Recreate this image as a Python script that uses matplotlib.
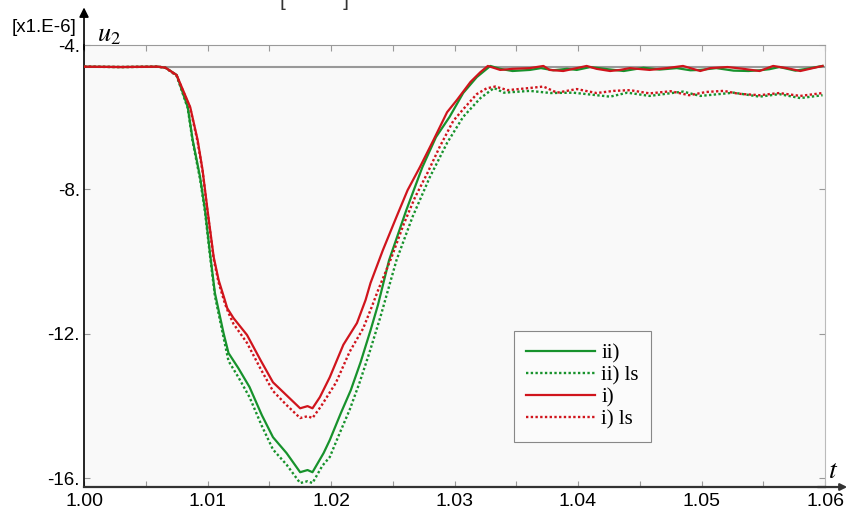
import numpy as np
import matplotlib
matplotlib.use("Agg")
import matplotlib.pyplot as plt

# u2 response, values in units of 1e-6
t_i = [1.0000, 1.0030, 1.0060, 1.0066, 1.0075, 1.0086, 1.0092, 1.0096, 1.0100, 1.0105,
       1.0109, 1.0114, 1.0116, 1.0121, 1.0132, 1.0143, 1.0153, 1.0164, 1.0175, 1.0181,
       1.0185, 1.0191, 1.0199, 1.0210, 1.0221, 1.0228, 1.0232, 1.0242, 1.0253, 1.0262,
       1.0272, 1.0283, 1.0294, 1.0302, 1.0313, 1.0321, 1.0327, 1.0337, 1.0347, 1.0361,
       1.0372, 1.0377, 1.0388, 1.0399, 1.0407, 1.0415, 1.0426, 1.0434, 1.0442, 1.0458,
       1.0472, 1.0485, 1.0499, 1.0507, 1.0521, 1.0534, 1.0547, 1.0558, 1.0569, 1.0580,
       1.0594, 1.0598]
u_i = [-4.60, -4.61, -4.60, -4.63, -4.83, -5.72, -6.63, -7.46, -8.57, -9.87,
       -10.51, -11.06, -11.29, -11.56, -12.03, -12.73, -13.34, -13.70, -14.06, -14.00,
       -14.06, -13.75, -13.20, -12.30, -11.70, -11.06, -10.59, -9.68, -8.76, -8.02,
       -7.38, -6.63, -5.86, -5.52, -5.02, -4.75, -4.58, -4.69, -4.66, -4.64,
       -4.58, -4.69, -4.72, -4.64, -4.58, -4.66, -4.72, -4.69, -4.64, -4.69,
       -4.64, -4.58, -4.72, -4.64, -4.61, -4.66, -4.72, -4.58, -4.64, -4.72,
       -4.61, -4.58]

t_i_ls = [1.0000, 1.0030, 1.0060, 1.0066, 1.0075, 1.0086, 1.0092, 1.0096, 1.0100, 1.0105,
          1.0109, 1.0114, 1.0117, 1.0121, 1.0132, 1.0143, 1.0153, 1.0164, 1.0175, 1.0181,
          1.0185, 1.0192, 1.0204, 1.0215, 1.0226, 1.0233, 1.0238, 1.0249, 1.0259, 1.0268,
          1.0278, 1.0288, 1.0299, 1.0307, 1.0318, 1.0326, 1.0333, 1.0343, 1.0361, 1.0372,
          1.0383, 1.0399, 1.0415, 1.0429, 1.0442, 1.0458, 1.0475, 1.0490, 1.0504, 1.0518,
          1.0530, 1.0547, 1.0563, 1.0580, 1.0598]
u_i_ls = [-4.60, -4.61, -4.60, -4.63, -4.85, -5.75, -6.68, -7.50, -8.62, -9.93,
          -10.58, -11.15, -11.42, -11.72, -12.25, -12.97, -13.58, -13.97, -14.33, -14.28,
          -14.33, -14.00, -13.35, -12.50, -11.85, -11.25, -10.80, -9.88, -8.95, -8.22,
          -7.55, -6.82, -6.10, -5.78, -5.36, -5.20, -5.15, -5.25, -5.19, -5.15,
          -5.32, -5.22, -5.33, -5.27, -5.25, -5.34, -5.28, -5.39, -5.30, -5.27,
          -5.35, -5.39, -5.33, -5.41, -5.33]

t_ii = [1.0000, 1.0030, 1.0060, 1.0066, 1.0075, 1.0084, 1.0088, 1.0094, 1.0098, 1.0102,
        1.0106, 1.0113, 1.0117, 1.0125, 1.0134, 1.0144, 1.0153, 1.0164, 1.0175, 1.0181,
        1.0185, 1.0194, 1.0199, 1.0208, 1.0216, 1.0224, 1.0232, 1.0238, 1.0247, 1.0261,
        1.0274, 1.0285, 1.0296, 1.0307, 1.0318, 1.0329, 1.0337, 1.0347, 1.0361, 1.0370,
        1.0380, 1.0391, 1.0399, 1.0410, 1.0424, 1.0437, 1.0453, 1.0466, 1.0480, 1.0491,
        1.0499, 1.0512, 1.0526, 1.0538, 1.0547, 1.0555, 1.0563, 1.0576, 1.0585, 1.0598]
u_ii = [-4.60, -4.61, -4.60, -4.63, -4.83, -5.72, -6.63, -7.66, -8.57, -9.76,
        -10.87, -11.98, -12.53, -12.95, -13.47, -14.25, -14.86, -15.30, -15.83, -15.77,
        -15.83, -15.30, -14.94, -14.19, -13.56, -12.78, -11.90, -11.20, -9.96, -8.57,
        -7.38, -6.55, -5.99, -5.33, -4.89, -4.58, -4.66, -4.72, -4.69, -4.64,
        -4.70, -4.66, -4.69, -4.61, -4.67, -4.72, -4.63, -4.68, -4.64, -4.70,
        -4.69, -4.64, -4.71, -4.72, -4.70, -4.67, -4.61, -4.71, -4.66, -4.58]

t_ii_ls = [1.0000, 1.0030, 1.0060, 1.0066, 1.0075, 1.0084, 1.0088, 1.0094, 1.0098, 1.0102,
           1.0106, 1.0113, 1.0117, 1.0125, 1.0134, 1.0144, 1.0153, 1.0164, 1.0175, 1.0181,
           1.0185, 1.0193, 1.0199, 1.0207, 1.0215, 1.0223, 1.0231, 1.0240, 1.0253, 1.0266,
           1.0280, 1.0294, 1.0307, 1.0321, 1.0332, 1.0340, 1.0361, 1.0378, 1.0396, 1.0426,
           1.0440, 1.0458, 1.0485, 1.0499, 1.0526, 1.0547, 1.0563, 1.0580, 1.0598]
u_ii_ls = [-4.60, -4.61, -4.60, -4.63, -4.85, -5.75, -6.68, -7.72, -8.63, -9.83,
           -10.95, -12.10, -12.75, -13.20, -13.75, -14.55, -15.20, -15.62, -16.13, -16.08,
           -16.13, -15.65, -15.41, -14.75, -14.11, -13.36, -12.53, -11.53, -9.96, -8.76,
           -7.66, -6.71, -5.99, -5.47, -5.19, -5.32, -5.27, -5.33, -5.32, -5.43,
           -5.32, -5.41, -5.29, -5.41, -5.32, -5.43, -5.36, -5.47, -5.39]

u_ref = -4.6
y_ticks = [-4, -8, -12, -16]
x_ticks = [1.00, 1.01, 1.02, 1.03, 1.04, 1.05, 1.06]

GREEN = "#17922c"
RED = "#d0141c"


def style_axes(ax):
    ax.set_facecolor("#f9f9f9")
    ax.set_xlim(1.0, 1.06)
    ax.set_ylim(-16.24, -4.0)

    ax.spines["left"].set_color("black")
    ax.spines["left"].set_linewidth(1.2)
    ax.spines["bottom"].set_color("#333333")
    ax.spines["bottom"].set_linewidth(1.6)
    ax.spines["top"].set_color("#9a9a9a")
    ax.spines["right"].set_color("#bbbbbb")

    ax.set_xticks(x_ticks)
    ax.set_xticklabels([f"{v:.2f}" for v in x_ticks])
    ax.set_xticks(np.arange(1.005, 1.06, 0.01), minor=True)
    ax.set_yticks(y_ticks)
    ax.set_yticklabels([f"{v}." for v in y_ticks])

    ax.tick_params(axis="both", which="both", direction="in", color="#999999",
                   labelsize=14, top=True, right=True, length=4, width=0.8)
    ax.tick_params(axis="x", pad=4)
    ax.tick_params(axis="y", pad=3, labelsize=13.5)
    for lab in ax.get_xticklabels() + ax.get_yticklabels():
        lab.set_fontfamily("Liberation Sans")

    # axis arrows
    ax.annotate("", xy=(0, 1.085), xytext=(0, 0.99), xycoords="axes fraction",
                arrowprops=dict(arrowstyle="-|>", color="black", lw=1.2,
                                mutation_scale=14, shrinkA=0, shrinkB=0))
    ax.annotate("", xy=(1.03, 0), xytext=(0.99, 0), xycoords="axes fraction",
                arrowprops=dict(arrowstyle="-|>", color="#333333", lw=1.6,
                                mutation_scale=10, shrinkA=0, shrinkB=0))


def main():
    fig = plt.figure(figsize=(8.46, 5.08), dpi=100)
    ax = fig.add_axes([0.0993, 0.0413, 0.8759, 0.8701])
    style_axes(ax)

    ax.axhline(u_ref, color="#999999", lw=1.5, zorder=1)

    dot = (0, (1.0, 1.0))
    ax.plot(t_ii, u_ii, color=GREEN, lw=1.6, label="ii)", zorder=3)
    ax.plot(t_ii_ls, u_ii_ls, color=GREEN, lw=1.7, ls=dot, label="ii) ls", zorder=3)
    ax.plot(t_i, u_i, color=RED, lw=1.6, label="i)", zorder=4)
    ax.plot(t_i_ls, u_i_ls, color=RED, lw=1.7, ls=dot, label="i) ls", zorder=4)

    leg = ax.legend(loc="upper left", bbox_to_anchor=(0.58, 0.353), frameon=True,
                    fancybox=False, edgecolor="#888888", facecolor="#fbfbfb",
                    framealpha=1.0, handlelength=3.3, handletextpad=0.3,
                    labelspacing=0.12, borderpad=0.6, borderaxespad=0,
                    prop={"family": "Liberation Serif", "size": 15})
    leg.get_frame().set_linewidth(0.8)

    fig.text(0.014, 0.945, "[x1.E-6]", fontsize=13.5, family="Liberation Sans",
             ha="left", va="center")
    fig.text(0.115, 0.932, r"$u_2$", fontsize=19, ha="left", va="center",
             math_fontfamily="stix")
    fig.text(0.979, 0.075, r"$t$", fontsize=20, ha="left", va="center",
             math_fontfamily="stix")
    # fragment of a caption cut off at the top edge
    fig.text(0.372, 1.0, "[          ]", fontsize=15, family="Liberation Sans",
             ha="center", va="center", color="#333333")

    fig.savefig("out.png", dpi=100)
    plt.close(fig)


if __name__ == "__main__":
    main()
